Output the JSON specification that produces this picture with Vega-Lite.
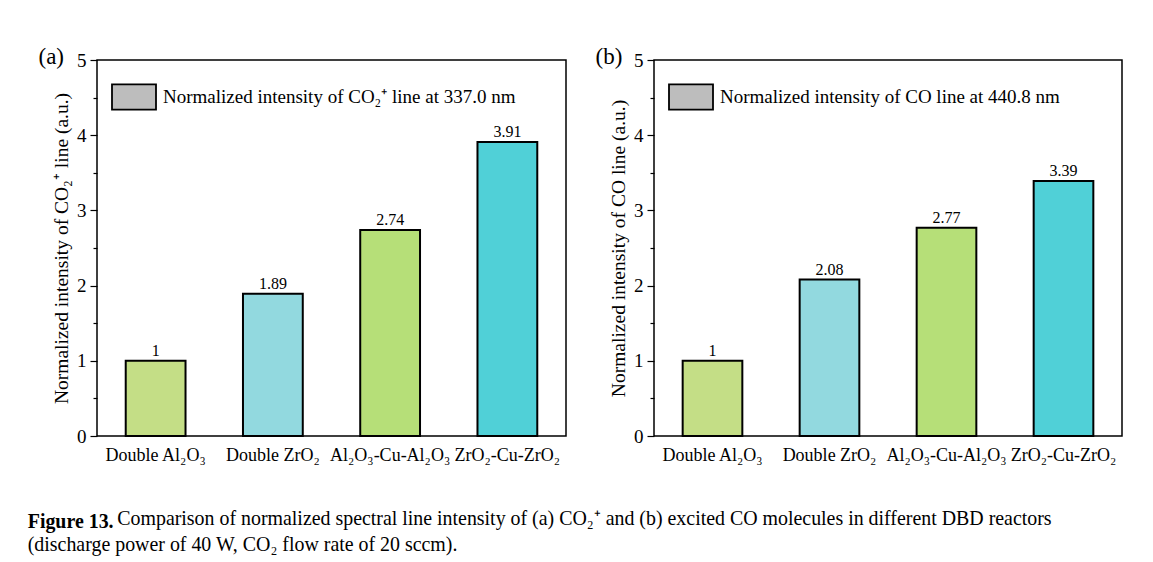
{
  "$schema": "https://vega.github.io/schema/vega-lite/v6.json",
  "padding": {"left": 27, "top": 45, "right": 5, "bottom": 5},
  "background": "white",
  "title": {
    "text": "Figure 13.",
    "subtitle": [
      "\u200b\u00a0\u00a0\u00a0\u00a0\u00a0\u00a0\u00a0\u00a0\u00a0\u00a0\u00a0\u00a0\u00a0\u00a0\u00a0\u00a0\u00a0\u00a0Comparison of normalized spectral line intensity of (a) CO₂⁺ and (b) excited CO molecules in different DBD reactors",
      "(discharge power of 40 W, CO₂ flow rate of 20 sccm)."
    ],
    "orient": "bottom",
    "anchor": "start",
    "frame": "bounds",
    "font": "Liberation Serif",
    "fontSize": 19.9,
    "fontWeight": "bold",
    "color": "black",
    "subtitleFont": "Liberation Serif",
    "subtitleFontSize": 19.9,
    "subtitleColor": "black",
    "subtitlePadding": -22.5,
    "subtitleLineHeight": 26,
    "offset": 47,
    "dx": -10
  },
  "spacing": 27,
  "resolve": {
    "scale": {"x": "independent", "y": "independent", "fill": "independent", "stroke": "independent"},
    "legend": {"stroke": "independent"}
  },
  "hconcat": [
    {
      "width": 469,
      "height": 376,
      "title": {"text": "(a)", "anchor": "start", "frame": "bounds", "font": "Liberation Serif", "fontSize": 23, "fontWeight": "normal", "color": "black", "offset": -18, "dx": -13},
      "data": {
        "values": [
          {"reactor": "Double Al₂O₃", "intensity": 1},
          {"reactor": "Double ZrO₂", "intensity": 1.89},
          {"reactor": "Al₂O₃-Cu-Al₂O₃", "intensity": 2.74},
          {"reactor": "ZrO₂-Cu-ZrO₂", "intensity": 3.91}
        ]
      },
      "encoding": {
        "x": {
          "field": "reactor", "type": "nominal", "sort": null,
          "scale": {"paddingInner": 0.49, "paddingOuter": 0.245},
          "axis": {"title": null, "labelAngle": 0, "ticks": false, "domain": false, "labelFont": "Liberation Serif", "labelFontSize": 18, "labelColor": "black", "labelPadding": 10, "labelLimit": 0}
        },
        "y": {
          "field": "intensity", "type": "quantitative",
          "scale": {"domain": [0, 5], "nice": false},
          "axis": {
            "title": "Normalized intensity of CO₂⁺ line (a.u.)",
            "values": [0, 0.5, 1, 1.5, 2, 2.5, 3, 3.5, 4, 4.5, 5],
            "labelExpr": "datum.value % 1 === 0 ? '' + datum.value : ''",
            "tickSize": {"condition": {"test": "datum.value % 1 === 0", "value": 7}, "value": 4},
            "tickColor": "black", "tickWidth": 1.2,
            "grid": false, "domain": false,
            "labelFont": "Liberation Serif", "labelFontSize": 19, "labelColor": "black", "labelPadding": 4,
            "titleFont": "Liberation Serif", "titleFontSize": 19.5, "titleFontWeight": "normal", "titleColor": "black", "titlePadding": 5
          }
        }
      },
      "layer": [
        {
          "mark": {"type": "bar", "strokeWidth": 2},
          "encoding": {
            "fill": {
              "field": "reactor", "type": "nominal", "legend": null,
              "scale": {"domain": ["Double Al₂O₃", "Double ZrO₂", "Al₂O₃-Cu-Al₂O₃", "ZrO₂-Cu-ZrO₂"], "range": ["#c4de86", "#92d9df", "#b6df78", "#50d0d7"]}
            },
            "stroke": {
              "datum": "Normalized intensity of CO₂⁺ line at 337.0 nm",
              "scale": {"range": ["black"]},
              "legend": {
                "title": null, "orient": "top-left", "offset": 14, "padding": 0,
                "symbolType": "M-1,-0.57H1V0.57H-1Z", "symbolSize": 1936, "symbolStrokeWidth": 1.8,
                "symbolFillColor": "#bdbdbd", "symbolStrokeColor": "black",
                "labelFont": "Liberation Serif", "labelFontSize": 19, "labelColor": "black", "labelLimit": 0, "labelOffset": 6
              }
            }
          }
        },
        {
          "mark": {"type": "text", "dy": -10, "font": "Liberation Serif", "fontSize": 16, "color": "black"},
          "encoding": {"text": {"field": "intensity", "type": "quantitative", "format": ".3~g"}}
        }
      ]
    },
    {
      "width": 468,
      "height": 376,
      "title": {"text": "(b)", "anchor": "start", "frame": "bounds", "font": "Liberation Serif", "fontSize": 23, "fontWeight": "normal", "color": "black", "offset": -18, "dx": -13},
      "data": {
        "values": [
          {"reactor": "Double Al₂O₃", "intensity": 1},
          {"reactor": "Double ZrO₂", "intensity": 2.08},
          {"reactor": "Al₂O₃-Cu-Al₂O₃", "intensity": 2.77},
          {"reactor": "ZrO₂-Cu-ZrO₂", "intensity": 3.39}
        ]
      },
      "encoding": {
        "x": {
          "field": "reactor", "type": "nominal", "sort": null,
          "scale": {"paddingInner": 0.49, "paddingOuter": 0.245},
          "axis": {"title": null, "labelAngle": 0, "ticks": false, "domain": false, "labelFont": "Liberation Serif", "labelFontSize": 18, "labelColor": "black", "labelPadding": 10, "labelLimit": 0}
        },
        "y": {
          "field": "intensity", "type": "quantitative",
          "scale": {"domain": [0, 5], "nice": false},
          "axis": {
            "title": "Normalized intensity of CO line (a.u.)",
            "values": [0, 0.5, 1, 1.5, 2, 2.5, 3, 3.5, 4, 4.5, 5],
            "labelExpr": "datum.value % 1 === 0 ? '' + datum.value : ''",
            "tickSize": {"condition": {"test": "datum.value % 1 === 0", "value": 7}, "value": 4},
            "tickColor": "black", "tickWidth": 1.2,
            "grid": false, "domain": false,
            "labelFont": "Liberation Serif", "labelFontSize": 19, "labelColor": "black", "labelPadding": 4,
            "titleFont": "Liberation Serif", "titleFontSize": 19.5, "titleFontWeight": "normal", "titleColor": "black", "titlePadding": 5
          }
        }
      },
      "layer": [
        {
          "mark": {"type": "bar", "strokeWidth": 2},
          "encoding": {
            "fill": {
              "field": "reactor", "type": "nominal", "legend": null,
              "scale": {"domain": ["Double Al₂O₃", "Double ZrO₂", "Al₂O₃-Cu-Al₂O₃", "ZrO₂-Cu-ZrO₂"], "range": ["#c4de86", "#92d9df", "#b6df78", "#50d0d7"]}
            },
            "stroke": {
              "datum": "Normalized intensity of CO line at 440.8 nm",
              "scale": {"range": ["black"]},
              "legend": {
                "title": null, "orient": "top-left", "offset": 14, "padding": 0,
                "symbolType": "M-1,-0.57H1V0.57H-1Z", "symbolSize": 1936, "symbolStrokeWidth": 1.8,
                "symbolFillColor": "#bdbdbd", "symbolStrokeColor": "black",
                "labelFont": "Liberation Serif", "labelFontSize": 19, "labelColor": "black", "labelLimit": 0, "labelOffset": 6
              }
            }
          }
        },
        {
          "mark": {"type": "text", "dy": -10, "font": "Liberation Serif", "fontSize": 16, "color": "black"},
          "encoding": {"text": {"field": "intensity", "type": "quantitative", "format": ".3~g"}}
        }
      ]
    }
  ],
  "config": {
    "view": {"stroke": "black", "strokeWidth": 1.5}
  }
}
